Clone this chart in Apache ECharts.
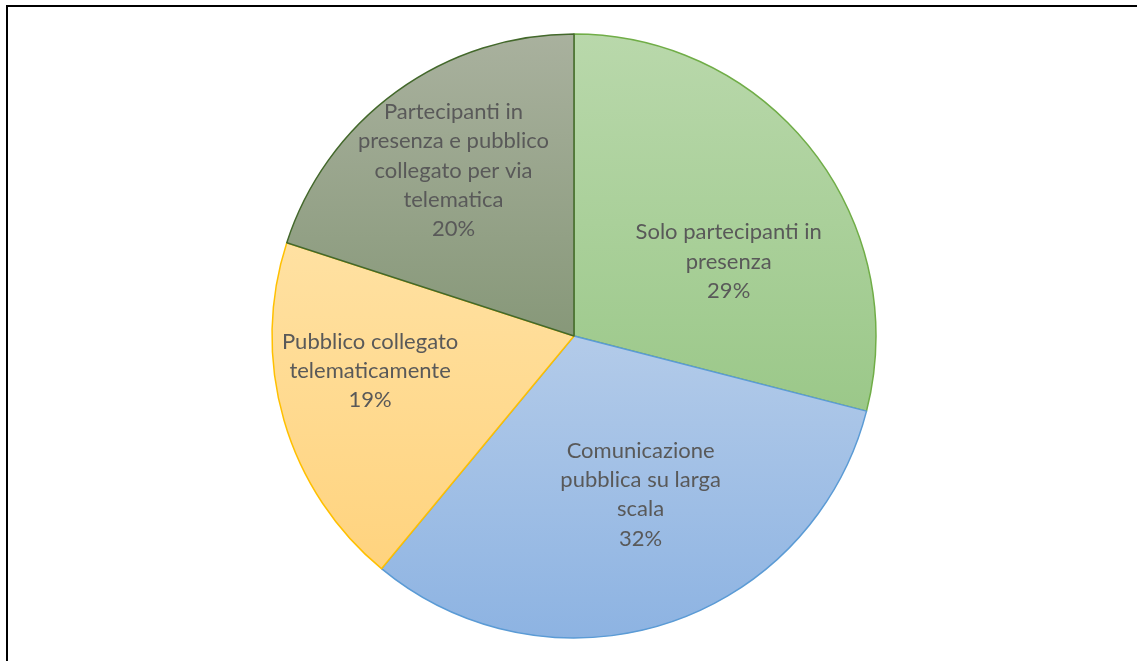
<!DOCTYPE html>
<html>
<head>
<meta charset="utf-8">
<script src="https://cdn.jsdelivr.net/npm/echarts@6/dist/echarts.min.js"></script>
<style>
  html, body { margin: 0; padding: 0; background: #fff; }
  #chart { width: 1137px; height: 661px; }
</style>
</head>
<body>
<div id="chart"></div>
<script>
// Slice names (with the line breaks used in their labels) and shares in percent
const categories = [
  'Solo partecipanti in\npresenza',
  'Comunicazione\npubblica su larga\nscala',
  'Pubblico collegato\ntelematicamente',
  'Partecipanti in\npresenza e pubblico\ncollegato per via\ntelematica'
];
const values = [29, 32, 19, 20];

// Fill gradients (top -> bottom) and outline colour of each slice
const fillTop = ['#b9d8ab', '#b3cbe9', '#ffe1a2', '#a9b19e'];
const fillBottom = ['#9bc889', '#8db3e2', '#ffd37e', '#879879'];
const borders = ['#70ad47', '#5b9bd5', '#ffc000', '#43682b'];
// Label nudges away from the default inside position
const labelOffsets = [[33, 20], [19, 12], [-56, -8], [-30, -41]];

const chart = echarts.init(document.getElementById('chart'), null, { renderer: 'canvas' });

const data = categories.map((name, i) => ({
  name: name,
  value: values[i],
  itemStyle: {
    color: new echarts.graphic.LinearGradient(0, 0, 0, 1, [
      { offset: 0, color: fillTop[i] },
      { offset: 1, color: fillBottom[i] }
    ]),
    borderColor: borders[i],
    borderWidth: 1.5
  },
  label: { offset: labelOffsets[i] }
}));

chart.setOption({
  animation: false,
  backgroundColor: '#ffffff',
  graphic: [
    { type: 'line', shape: { x1: 6, y1: 6, x2: 1137, y2: 6 }, style: { stroke: '#000', lineWidth: 2 } },
    { type: 'line', shape: { x1: 7, y1: 5, x2: 7, y2: 661 }, style: { stroke: '#000', lineWidth: 2 } }
  ],
  series: [{
    type: 'pie',
    center: [574, 336],
    radius: [0, 302],
    startAngle: 90,
    clockwise: true,
    avoidLabelOverlap: false,
    emphasis: { disabled: true },
    data: data,
    label: {
      show: true,
      position: 'inside',
      fontFamily: 'Lato',
      fontSize: 22,
      lineHeight: 29.3,
      color: '#595959',
      align: 'center',
      formatter: p => p.name + '\n' + p.value + '%'
    },
    labelLine: { show: false }
  }]
});
</script>
</body>
</html>
